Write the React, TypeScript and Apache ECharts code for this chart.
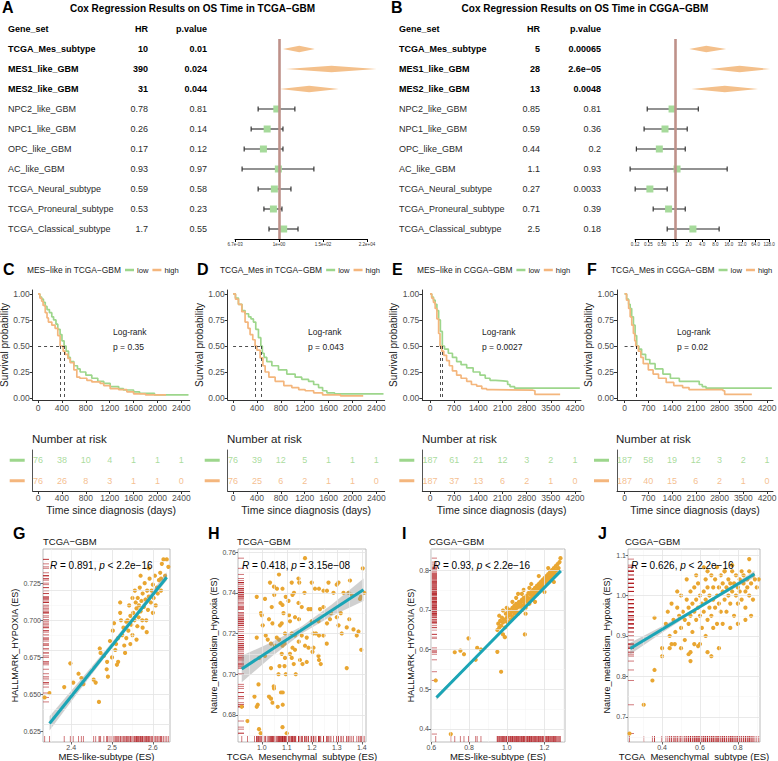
import React, { useEffect, useRef } from "react";
import * as echarts from "echarts";

const FONT = "'Liberation Sans', Arial, Helvetica, sans-serif";
const GREEN = "#9DD68C";
const ORANGE = "#F4B67D";
const DIAMOND = "#F4C08B";
const SQUARE = "#A6DA9B";
const REFLINE = "#BE918A";
const PT = "#E9A631";
const TEAL = "#1BA5B6";
const RUG = "rgba(178,30,36,0.75)";
const TICK = "#4D4D4D";

// ---------------- Forest plots ----------------
const geneSets = ["TCGA_Mes_subtype", "MES1_like_GBM", "MES2_like_GBM", "NPC2_like_GBM", "NPC1_like_GBM", "OPC_like_GBM", "AC_like_GBM", "TCGA_Neural_subtype", "TCGA_Proneural_subtype", "TCGA_Classical_subtype"];
const boldRows = [1, 1, 1, 0, 0, 0, 0, 0, 0, 0];

const hrTextA = ["10", "390", "31", "0.78", "0.26", "0.17", "0.93", "0.59", "0.53", "1.7"];
const pTextA = ["0.01", "0.024", "0.044", "0.81", "0.14", "0.12", "0.97", "0.58", "0.23", "0.55"];
const hrA = [10, 390, 31, 0.78, 0.26, 0.17, 0.93, 0.59, 0.53, 1.7];
const ciLoA = [1.58, 2.2, 1.1, 0.093, 0.042, 0.019, 0.015, 0.093, 0.18, 0.32];
const ciHiA = [59, 67000, 900, 6.1, 1.57, 1.57, 53, 3.9, 1.4, 8.7];
const forestTicksA = ["6.7e-03", "1e+00", "1.5e+02", "2.2e+04"];

const hrTextB = ["5", "28", "13", "0.85", "0.59", "0.44", "1.1", "0.27", "0.71", "2.5"];
const pTextB = ["0.00065", "2.6e\u221205", "0.0048", "0.81", "0.36", "0.2", "0.93", "0.0033", "0.39", "0.18"];
const hrB = [5, 28, 13, 0.85, 0.59, 0.44, 1.1, 0.27, 0.71, 2.5];
const ciLoB = [2.06, 6.1, 2.3, 0.235, 0.2, 0.134, 0.097, 0.126, 0.32, 0.66];
const ciHiB = [14, 136, 73, 3.3, 1.86, 1.68, 14.7, 0.66, 1.68, 9.7];
const forestTicksB = ["0.12", "0.25", "0.50", "1.0", "2.0", "4.0", "8.0", "16.0", "32.0", "64.0", "128.0"];

// ---------------- Kaplan-Meier ----------------
const kmC_low = [[0,1],[30,0.97],[60,0.95],[90,0.92],[120,0.88],[150,0.85],[190,0.82],[230,0.78],[260,0.75],[300,0.71],[330,0.66],[369,0.61],[400,0.55],[436,0.50],[470,0.45],[510,0.39],[540,0.35],[600,0.31],[660,0.28],[705,0.25],[800,0.22],[900,0.19],[1000,0.16],[1100,0.14],[1208,0.11],[1350,0.09],[1430,0.077],[1600,0.06],[1700,0.045],[1950,0.03],[2520,0.03]];
const kmC_high = [[0,1],[30,0.96],[60,0.93],[84,0.89],[120,0.82],[150,0.77],[173,0.73],[230,0.70],[285,0.67],[330,0.60],[369,0.50],[420,0.45],[453,0.42],[500,0.38],[537,0.34],[600,0.27],[649,0.20],[700,0.19],[817,0.17],[900,0.155],[1040,0.14],[1100,0.12],[1208,0.09],[1350,0.08],[1487,0.06],[1600,0.04],[1800,0.03],[2143,0.03]];
const kmD_low = [[0,1],[40,0.96],[90,0.9],[150,0.84],[201,0.81],[260,0.78],[300,0.76],[341,0.73],[380,0.66],[425,0.58],[465,0.50],[490,0.43],[520,0.39],[565,0.35],[650,0.31],[761,0.27],[900,0.23],[1040,0.20],[1150,0.18],[1264,0.16],[1350,0.13],[1432,0.10],[1500,0.07],[1572,0.05],[1700,0.04],[2520,0.04]];
const kmD_high = [[0,1],[40,0.95],[90,0.9],[146,0.83],[201,0.73],[250,0.67],[285,0.61],[330,0.56],[369,0.50],[400,0.46],[453,0.385],[500,0.31],[537,0.25],[600,0.20],[705,0.16],[850,0.12],[984,0.10],[1100,0.08],[1208,0.07],[1350,0.05],[1500,0.03],[1800,0.02],[2180,0.02]];
const kmE_low = [[0,1],[50,0.97],[100,0.94],[150,0.90],[200,0.84],[250,0.75],[300,0.64],[357,0.50],[420,0.47],[531,0.43],[650,0.39],[772,0.35],[900,0.32],[1063,0.29],[1250,0.25],[1448,0.22],[1600,0.19],[1738,0.17],[1900,0.165],[2115,0.16],[2250,0.13],[2317,0.11],[2450,0.095],[4340,0.095]];
const kmE_high = [[0,1],[50,0.96],[100,0.92],[150,0.86],[200,0.76],[250,0.62],[290,0.50],[340,0.45],[400,0.41],[480,0.36],[560,0.31],[650,0.26],[772,0.22],[900,0.19],[1063,0.16],[1200,0.13],[1352,0.115],[1500,0.09],[1642,0.08],[1800,0.075],[2980,0.07],[3040,0.035],[3770,0.035]];
const kmF_low = [[0,1],[60,0.95],[120,0.9],[165,0.86],[210,0.78],[261,0.70],[310,0.60],[357,0.50],[420,0.47],[502,0.42],[620,0.37],[744,0.33],[900,0.28],[1130,0.23],[1350,0.19],[1614,0.16],[2090,0.16],[2200,0.13],[2290,0.11],[2400,0.095],[4340,0.095]];
const kmF_high = [[0,1],[60,0.94],[120,0.86],[165,0.78],[212,0.70],[260,0.62],[300,0.55],[330,0.50],[406,0.45],[480,0.39],[551,0.33],[700,0.27],[841,0.23],[1000,0.19],[1227,0.15],[1450,0.12],[1711,0.10],[1900,0.08],[2900,0.07],[2950,0.035],[3750,0.035]];
const medC = [369, 436];
const medD = [369, 465];
const medE = [290, 357];
const medF = [330, 357];
const pvalC = "p = 0.35";
const pvalD = "p = 0.043";
const pvalE = "p = 0.0027";
const pvalF = "p = 0.02";

const timesTCGA = [0, 400, 800, 1200, 1600, 2000, 2400];
const timesCGGA = [0, 700, 1400, 2100, 2800, 3500, 4200];
const riskC_low = [76, 38, 10, 4, 1, 1, 1];
const riskC_high = [76, 26, 8, 3, 1, 1, 0];
const riskD_low = [76, 39, 12, 5, 1, 1, 1];
const riskD_high = [76, 25, 6, 2, 1, 1, 0];
const riskE_low = [187, 61, 21, 12, 3, 2, 1];
const riskE_high = [187, 37, 13, 6, 2, 1, 0];
const riskF_low = [187, 58, 19, 12, 3, 2, 1];
const riskF_high = [187, 40, 15, 6, 2, 1, 0];
const survTicks = [0, 0.25, 0.5, 0.75, 1];

// ---------------- Scatter plots ----------------
const gPts = [[2.335,0.648],[2.347,0.651],[2.383,0.655],[2.398,0.671],[2.405,0.658],[2.418,0.664],[2.425,0.661],[2.43,0.657],[2.455,0.66],[2.46,0.658],[2.468,0.645],[2.47,0.681],[2.472,0.678],[2.48,0.676],[2.487,0.667],[2.49,0.662],[2.488,0.672],[2.495,0.686],[2.5,0.675],[2.502,0.693],[2.505,0.698],[2.508,0.68],[2.51,0.684],[2.512,0.67],[2.515,0.672],[2.515,0.688],[2.52,0.705],[2.52,0.712],[2.522,0.7],[2.525,0.69],[2.528,0.695],[2.53,0.683],[2.532,0.678],[2.535,0.688],[2.535,0.699],[2.538,0.70],[2.54,0.693],[2.542,0.71],[2.545,0.703],[2.545,0.684],[2.547,0.697],[2.55,0.69],[2.55,0.715],[2.552,0.705],[2.555,0.70],[2.556,0.72],[2.558,0.712],[2.56,0.708],[2.56,0.687],[2.562,0.696],[2.563,0.715],[2.565,0.702],[2.566,0.71],[2.568,0.722],[2.57,0.706],[2.57,0.73],[2.572,0.713],[2.574,0.70],[2.575,0.718],[2.575,0.695],[2.578,0.709],[2.58,0.725],[2.582,0.714],[2.584,0.70],[2.585,0.692],[2.586,0.72],[2.588,0.707],[2.59,0.716],[2.59,0.735],[2.592,0.728],[2.595,0.712],[2.597,0.72],[2.6,0.724],[2.6,0.705],[2.602,0.715],[2.605,0.73],[2.607,0.71],[2.61,0.722],[2.612,0.718],[2.615,0.727],[2.618,0.732],[2.62,0.72],[2.62,0.728],[2.622,0.738],[2.626,0.741],[2.63,0.73],[2.634,0.741],[2.638,0.736]];
const hPts = [[1.173,0.757],[1.404,0.752],[1.069,0.749],[1.147,0.747],[1.15,0.745],[1.033,0.745],[1.2,0.745],[1.353,0.746],[1.267,0.745],[1.307,0.745],[1.3,0.744],[1.12,0.745],[1.049,0.743],[1.061,0.742],[1.083,0.742],[1.129,0.74],[1.123,0.739],[1.171,0.74],[1.213,0.742],[1.229,0.742],[1.247,0.741],[1.261,0.741],[1.287,0.74],[1.327,0.74],[1.347,0.74],[1.36,0.739],[1.397,0.738],[1.393,0.737],[0.98,0.738],[1.013,0.737],[1.096,0.738],[1.107,0.736],[1.075,0.735],[1.083,0.734],[1.04,0.733],[1.147,0.735],[1.16,0.733],[1.187,0.732],[1.197,0.732],[1.233,0.732],[1.247,0.733],[1.277,0.73],[1.316,0.73],[1.3,0.728],[1.35,0.727],[0.997,0.73],[1.087,0.73],[1.109,0.729],[1.133,0.728],[1.149,0.727],[1.029,0.727],[1.043,0.725],[1.08,0.725],[1.073,0.724],[1.113,0.726],[1.004,0.724],[1.2,0.726],[1.227,0.726],[1.261,0.725],[1.273,0.727],[1.307,0.724],[1.34,0.723],[1.367,0.722],[1.387,0.721],[1.32,0.72],[1.016,0.719],[1.024,0.717],[1.06,0.718],[1.069,0.717],[1.093,0.72],[1.12,0.72],[1.133,0.719],[1.16,0.719],[1.18,0.718],[1.207,0.72],[1.217,0.72],[1.229,0.719],[1.247,0.719],[1.26,0.715],[0.98,0.718],[1.037,0.715],[1.053,0.714],[1.083,0.714],[1.091,0.715],[1.123,0.713],[1.133,0.712],[1.148,0.716],[1.173,0.714],[1.187,0.713],[1.207,0.713],[1.203,0.711],[1.013,0.709],[1.08,0.71],[1.093,0.708],[1.113,0.71],[1.12,0.708],[1.153,0.707],[1.163,0.705],[1.18,0.706],[1.227,0.709],[1.229,0.707],[1.236,0.705],[1.34,0.703],[1.037,0.703],[1.071,0.704],[1.091,0.704],[1.128,0.705],[1.067,0.7],[1.096,0.7],[1.136,0.7],[0.987,0.695],[1.048,0.694],[1.049,0.693],[1.077,0.691],[1.084,0.691],[0.971,0.689],[1.029,0.689],[1.037,0.688],[0.984,0.685],[0.98,0.684],[1.043,0.686],[1.064,0.684],[1.084,0.685],[0.92,0.684],[0.943,0.677],[0.989,0.673],[0.996,0.671],[1.083,0.674],[1.1,0.671],[1.41,0.74],[1.398,0.712],[1.38,0.719],[1.05,0.739],[1.0,0.729],[0.99,0.708]];
const iPts = [[0.623,0.522],[0.703,0.387],[0.724,0.593],[0.754,0.597],[0.773,0.588],[0.797,0.628],[0.835,0.574],[0.843,0.604],[0.863,0.6],[0.95,0.594],[0.97,0.544],[0.95,0.649],[0.99,0.631],[0.98,0.638],[1.096,0.638],[0.955,0.665],[0.96,0.655],[0.965,0.672],[0.97,0.66],[0.975,0.68],[0.98,0.668],[0.985,0.675],[0.99,0.655],[0.995,0.69],[1.0,0.68],[1.0,0.67],[1.005,0.692],[1.01,0.685],[1.01,0.668],[1.015,0.70],[1.02,0.688],[1.02,0.675],[1.025,0.695],[1.03,0.705],[1.03,0.682],[1.035,0.698],[1.04,0.71],[1.04,0.69],[1.045,0.702],[1.05,0.695],[1.05,0.715],[1.055,0.705],[1.06,0.712],[1.06,0.69],[1.065,0.72],[1.07,0.708],[1.07,0.695],[1.075,0.718],[1.08,0.71],[1.08,0.725],[1.085,0.70],[1.09,0.72],[1.09,0.73],[1.095,0.712],[1.10,0.725],[1.10,0.705],[1.105,0.735],[1.11,0.72],[1.11,0.73],[1.115,0.742],[1.12,0.728],[1.12,0.715],[1.125,0.738],[1.13,0.745],[1.13,0.725],[1.135,0.735],[1.14,0.75],[1.14,0.73],[1.145,0.742],[1.15,0.755],[1.15,0.738],[1.155,0.748],[1.16,0.76],[1.16,0.74],[1.165,0.752],[1.17,0.765],[1.17,0.745],[1.175,0.758],[1.18,0.77],[1.18,0.75],[1.185,0.762],[1.19,0.775],[1.19,0.755],[1.195,0.768],[1.2,0.78],[1.2,0.76],[1.205,0.772],[1.21,0.785],[1.21,0.765],[1.215,0.778],[1.22,0.79],[1.22,0.77],[1.225,0.782],[1.23,0.795],[1.23,0.775],[1.235,0.788],[1.24,0.80],[1.24,0.78],[1.245,0.792],[1.25,0.805],[1.25,0.785],[1.255,0.798],[1.26,0.81],[1.26,0.79],[1.265,0.80],[1.27,0.815],[1.275,0.805],[1.28,0.82],[1.285,0.83],[1.12,0.755],[1.08,0.74],[1.05,0.73],[1.0,0.705],[0.98,0.698],[1.1,0.69],[1.15,0.72],[1.2,0.745],[1.25,0.77],[1.17,0.785],[1.22,0.805],[1.03,0.72],[1.06,0.74],[0.96,0.685],[1.13,0.765],[1.09,0.75]];
const jPts = [[0.228,0.659],[0.303,0.73],[0.349,0.79],[0.36,0.816],[0.4,0.85],[0.4,0.87],[0.44,0.87],[0.467,0.88],[0.54,0.855],[0.55,0.838],[0.66,0.85],[0.59,0.875],[0.36,0.945],[0.86,1.09],[0.77,1.075],[0.73,1.06],[0.69,1.07],[0.64,1.06],[0.42,0.93],[0.43,0.96],[0.44,0.90],[0.45,0.98],[0.46,0.94],[0.47,0.91],[0.48,0.97],[0.49,0.95],[0.50,0.92],[0.50,1.00],[0.51,0.96],[0.52,0.94],[0.52,0.89],[0.53,0.99],[0.54,0.97],[0.54,0.93],[0.55,1.01],[0.55,0.95],[0.56,0.98],[0.56,0.91],[0.57,0.96],[0.57,1.02],[0.58,0.94],[0.58,0.99],[0.59,0.97],[0.59,1.03],[0.60,0.95],[0.60,1.00],[0.61,0.92],[0.61,0.98],[0.62,1.01],[0.62,0.96],[0.63,1.04],[0.63,0.99],[0.64,0.94],[0.64,1.02],[0.65,0.97],[0.65,1.00],[0.66,1.05],[0.66,0.95],[0.67,0.99],[0.67,1.02],[0.68,0.97],[0.68,1.04],[0.69,1.00],[0.69,0.93],[0.70,1.02],[0.70,0.98],[0.71,1.05],[0.71,0.96],[0.72,1.01],[0.72,1.03],[0.73,0.99],[0.73,1.06],[0.74,1.02],[0.74,0.96],[0.75,1.00],[0.75,1.04],[0.76,0.98],[0.76,1.03],[0.77,1.06],[0.77,1.01],[0.78,0.95],[0.78,1.03],[0.79,1.00],[0.79,1.05],[0.80,1.02],[0.80,0.98],[0.81,1.04],[0.81,1.01],[0.82,1.06],[0.82,0.99],[0.83,1.03],[0.83,1.05],[0.84,1.01],[0.84,0.97],[0.85,1.04],[0.85,1.02],[0.86,1.06],[0.86,1.00],[0.87,1.03],[0.88,1.05],[0.88,0.99],[0.89,1.04],[0.90,1.02],[0.91,1.04],[0.48,1.01],[0.53,1.04],[0.58,1.05],[0.62,1.07],[0.45,0.88],[0.50,0.87],[0.57,0.88],[0.63,0.90],[0.67,0.92],[0.72,0.93],[0.76,0.92],[0.80,0.93],[0.84,0.94],[0.87,0.95],[0.64,0.86],[0.70,0.87],[0.55,0.86],[0.60,0.88]];

const lineG = [[2.347, 0.6305], [2.634, 0.729]];
const bandGx = [2.347, 2.42, 2.49, 2.56, 2.634];
const bandGlo = [0.6257, 0.6525, 0.6778, 0.7024, 0.7267];
const bandGhi = [0.6353, 0.6589, 0.6818, 0.7056, 0.7323];
const lineH = [[0.92, 0.7026], [1.407, 0.7415]];
const bandHx = [0.92, 1.04, 1.16, 1.28, 1.407];
const bandHlo = [0.6961, 0.7087, 0.72, 0.7286, 0.736];
const bandHhi = [0.7091, 0.7157, 0.7236, 0.7342, 0.747];
const lineI = [[0.627, 0.479], [1.287, 0.798]];
const bandIx = [0.627, 0.79, 0.95, 1.12, 1.287];
const bandIlo = [0.473, 0.5543, 0.6333, 0.7161, 0.7962];
const bandIhi = [0.485, 0.5613, 0.6369, 0.7185, 0.7998];
const lineJ = [[0.232, 0.869], [0.888, 1.053]];
const bandJx = [0.232, 0.4, 0.56, 0.72, 0.888];
const bandJlo = [0.855, 0.9081, 0.957, 1.0019, 1.045];
const bandJhi = [0.883, 0.9241, 0.965, 1.0099, 1.061];

const gTicksX = [2.4, 2.5, 2.6]; const gMinorX = [2.35, 2.45, 2.55];
const gTicksY = [0.625, 0.65, 0.675, 0.7, 0.725]; const gMinorY = [0.6375, 0.6625, 0.6875, 0.7125, 0.7375];
const hTicksX = [1.0, 1.1, 1.2, 1.3, 1.4]; const hMinorX = [0.95, 1.05, 1.15, 1.25, 1.35];
const hTicksY = [0.68, 0.7, 0.72, 0.74, 0.76]; const hMinorY = [0.67, 0.69, 0.71, 0.73, 0.75];
const iTicksX = [0.6, 0.8, 1.0, 1.2]; const iMinorX = [0.7, 0.9, 1.1, 1.3];
const iTicksY = [0.4, 0.5, 0.6, 0.7, 0.8]; const iMinorY = [0.45, 0.55, 0.65, 0.75];
const jTicksX = [0.4, 0.6, 0.8]; const jMinorX = [0.3, 0.5, 0.7, 0.9];
const jTicksY = [0.7, 0.8, 0.9, 1.0, 1.1]; const jMinorY = [0.65, 0.75, 0.85, 0.95, 1.05];

// ---------------- helpers ----------------
function txt(x: number, y: number, text: string, o: any = {}) {
  const align = o.align || "left";
  return {
    type: "text", x, y, silent: true, z: 100,
    style: {
      text, fill: o.fill || "#000", fontSize: o.size || 9, fontFamily: FONT,
      fontWeight: o.weight || "normal", fontStyle: o.style || "normal",
      textAlign: align, align, textVerticalAlign: "middle", verticalAlign: "middle",
      rich: o.rich,
    },
  };
}

function forestSeries(gi: number, hr: number[], lo: number[], hi: number[], tf: (v: number) => number) {
  const data = hr.map((h, i) => [i, tf(lo[i]), tf(h), tf(hi[i]), boldRows[i]]);
  return [
    {
      type: "line", xAxisIndex: gi, yAxisIndex: gi, data: [[0, -0.5]], symbol: "none", z: 1,
      lineStyle: { opacity: 0 }, silent: true,
      markLine: { silent: true, symbol: ["none", "none"], label: { show: false },
        lineStyle: { color: REFLINE, width: 2.6, type: "solid" }, data: [{ xAxis: 0 }] },
    },
    {
      type: "custom", xAxisIndex: gi, yAxisIndex: gi, clip: false, z: 3, silent: true,
      encode: { x: 2, y: 0 }, data,
      renderItem: (p: any, api: any) => {
        const r = api.value(0);
        const pl = api.coord([api.value(1), r]);
        const pc = api.coord([api.value(2), r]);
        const ph = api.coord([api.value(3), r]);
        const y = pc[1];
        if (api.value(4)) {
          return { type: "polygon", shape: { points: [[pl[0], y], [pc[0], y - 3.2], [ph[0], y], [pc[0], y + 3.2]] }, style: { fill: DIAMOND } };
        }
        const st = { stroke: "#262626", lineWidth: 1.1 };
        return {
          type: "group", children: [
            { type: "line", shape: { x1: pl[0], y1: y, x2: ph[0], y2: y }, style: st },
            { type: "line", shape: { x1: pl[0], y1: y - 2.5, x2: pl[0], y2: y + 2.5 }, style: st },
            { type: "line", shape: { x1: ph[0], y1: y - 2.5, x2: ph[0], y2: y + 2.5 }, style: st },
            { type: "rect", shape: { x: pc[0] - 3.5, y: y - 3.5, width: 7, height: 7 }, style: { fill: SQUARE } },
          ],
        };
      },
    },
  ];
}

function tableSeries(gi: number, cols: number[], hrText: string[], pText: string[]) {
  const rows = [-1, 0, 1, 2, 3, 4, 5, 6, 7, 8, 9].map((r) => [0, r]);
  return {
    type: "custom", xAxisIndex: gi, yAxisIndex: gi, clip: false, z: 5, silent: true,
    encode: { x: 0, y: 1 }, data: rows,
    renderItem: (p: any, api: any) => {
      const r = api.value(1);
      const y = api.coord([0, r])[1];
      const head = r < 0;
      const bold = head || boldRows[r] === 1;
      const fw = bold ? "bold" : "normal";
      const mk = (x: number, t: string, align: string) => ({
        type: "text", x, y,
        style: { text: t, fill: bold ? "#000" : "#2a2a2a", fontSize: 9, fontWeight: fw, fontFamily: FONT, textAlign: align, align, textVerticalAlign: "middle", verticalAlign: "middle" },
      });
      return {
        type: "group", children: [
          mk(cols[0], head ? "Gene_set" : geneSets[r], "left"),
          mk(cols[1], head ? "HR" : hrText[r], "right"),
          mk(cols[2], head ? "p.value" : pText[r], "right"),
        ],
      };
    },
  };
}

function kmSeries(gi: number, low: number[][], high: number[][], med: number[]) {
  const mmax = Math.max(...med);
  const ml: any[] = [[{ coord: [0, 0.5] }, { coord: [mmax, 0.5] }]];
  med.forEach((m) => ml.push([{ coord: [m, 0.5] }, { coord: [m, 0] }]));
  return [
    { type: "line", xAxisIndex: gi, yAxisIndex: gi, data: low, step: "end", symbol: "none", z: 3, silent: true,
      lineStyle: { color: GREEN, width: 1.7 } },
    { type: "line", xAxisIndex: gi, yAxisIndex: gi, data: high, step: "end", symbol: "none", z: 4, silent: true,
      lineStyle: { color: ORANGE, width: 1.7 },
      markLine: { silent: true, symbol: ["none", "none"], label: { show: false }, animation: false,
        lineStyle: { color: "#222", width: 0.8, type: [3, 3] }, data: ml } },
  ];
}

function riskSeries(gi: number, times: number[], low: number[], high: number[]) {
  const mk = (cat: string, vals: number[], color: string) => ({
    type: "scatter", xAxisIndex: gi, yAxisIndex: gi, symbolSize: 0, silent: true,
    data: times.map((t, i) => [t, cat, vals[i]]),
    label: { show: true, position: "inside", formatter: (p: any) => String(p.value[2]), color, fontSize: 9, fontFamily: FONT },
  });
  return [mk("low", low, "#93D283"), mk("high", high, "#F2AE72")];
}

function kmAxes(gi: number, min: number, max: number, ticks: number[]) {
  const x = {
    gridIndex: gi, type: "value", min, max,
    axisLine: { show: true, onZero: false, lineStyle: { color: "#333", width: 1 } },
    axisTick: { show: true, length: 3, customValues: ticks, lineStyle: { color: "#333" } },
    axisLabel: { customValues: ticks, fontSize: 8.5, color: TICK, margin: 3, fontFamily: FONT, formatter: (v: number) => String(v) },
    splitLine: { show: false },
  };
  const y = {
    gridIndex: gi, type: "value", min: -0.019, max: 1.038,
    axisLine: { show: true, onZero: false, lineStyle: { color: "#333", width: 1 } },
    axisTick: { show: true, length: 3, customValues: survTicks, lineStyle: { color: "#333" } },
    axisLabel: { customValues: survTicks, fontSize: 8.5, color: TICK, margin: 3, fontFamily: FONT, formatter: (v: number) => v.toFixed(2) },
    splitLine: { show: false },
    name: "Survival probability", nameLocation: "middle", nameGap: 18,
    nameTextStyle: { fontSize: 10, color: "#222", fontFamily: FONT },
  };
  return { x, y };
}

function riskAxes(gi: number, min: number, max: number, ticks: number[]) {
  const x = {
    gridIndex: gi, type: "value", min, max,
    axisLine: { show: true, onZero: false, lineStyle: { color: "#333", width: 1 } },
    axisTick: { show: true, length: 3, customValues: ticks, lineStyle: { color: "#333" } },
    axisLabel: { customValues: ticks, fontSize: 8.5, color: TICK, margin: 2, fontFamily: FONT, formatter: (v: number) => String(v) },
    splitLine: { show: false },
    name: "Time since diagnosis (days)", nameLocation: "middle", nameGap: 13,
    nameTextStyle: { fontSize: 10.5, color: "#222", fontFamily: FONT },
  };
  const y = {
    gridIndex: gi, type: "category", data: ["high", "low"],
    axisLine: { show: true, onZero: false, lineStyle: { color: "#555", width: 1 } },
    axisTick: { show: false },
    axisLabel: {
      margin: 8, formatter: (v: string) => (v === "low" ? "{g|}" : "{o|}"),
      rich: { g: { width: 15, height: 3, backgroundColor: GREEN }, o: { width: 15, height: 3, backgroundColor: ORANGE } },
    },
    splitLine: { show: false },
  };
  return { x, y };
}

function scatterAxes(gi: number, xr: number[], yr: number[], tx: number[], ty: number[], dx: number, dy: number, xName: string, yName: string, yGap: number) {
  const x = {
    gridIndex: gi, type: "value", min: xr[0], max: xr[1],
    axisLine: { show: false, onZero: false }, splitLine: { show: false },
    axisTick: { show: true, length: 2.5, customValues: tx, lineStyle: { color: "#444", width: 0.8 } },
    axisLabel: { customValues: tx, fontSize: 7, color: TICK, margin: 1.5, fontFamily: FONT, formatter: (v: number) => v.toFixed(dx) },
    name: xName, nameLocation: "middle", nameGap: 4.5,
    nameTextStyle: { fontSize: 9.5, color: "#111", fontFamily: FONT },
  };
  const y = {
    gridIndex: gi, type: "value", min: yr[0], max: yr[1],
    axisLine: { show: false, onZero: false }, splitLine: { show: false },
    axisTick: { show: true, length: 2.5, customValues: ty, lineStyle: { color: "#444", width: 0.8 } },
    axisLabel: { customValues: ty, fontSize: 7, color: TICK, margin: 2, fontFamily: FONT, formatter: (v: number) => v.toFixed(dy) },
    name: yName, nameLocation: "middle", nameGap: yGap,
    nameTextStyle: { fontSize: 9, color: "#111", fontFamily: FONT },
  };
  return { x, y };
}

function scatterSeries(gi: number, pts: number[][], line: number[][], bx: number[], blo: number[], bhi: number[],
  xr: number[], yr: number[], tx: number[], mx: number[], ty: number[], my: number[]) {
  const gl: any[] = [];
  const minor = { color: "#F2F2F2", width: 0.5, type: "solid" };
  const major = { color: "#E3E3E3", width: 0.8, type: "solid" };
  mx.forEach((v) => gl.push({ xAxis: v, lineStyle: minor }));
  my.forEach((v) => gl.push({ yAxis: v, lineStyle: minor }));
  tx.forEach((v) => gl.push({ xAxis: v, lineStyle: major }));
  ty.forEach((v) => gl.push({ yAxis: v, lineStyle: major }));
  return [
    {
      type: "line", xAxisIndex: gi, yAxisIndex: gi, data: [[xr[0], yr[0]]], symbol: "none", z: 1, silent: true,
      lineStyle: { opacity: 0 },
      markLine: { silent: true, symbol: ["none", "none"], label: { show: false }, lineStyle: { type: "solid" }, data: gl },
    },
    {
      type: "custom", xAxisIndex: gi, yAxisIndex: gi, z: 2, silent: true, clip: false,
      data: pts,
      renderItem: (p: any, api: any) => {
        const a = api.coord([xr[0], api.value(1)]);
        const b = api.coord([api.value(0), yr[0]]);
        return {
          type: "group", children: [
            { type: "line", shape: { x1: a[0], y1: a[1], x2: a[0] + 6, y2: a[1] }, style: { stroke: RUG, lineWidth: 0.8 } },
            { type: "line", shape: { x1: b[0], y1: b[1], x2: b[0], y2: b[1] - 6 }, style: { stroke: RUG, lineWidth: 0.8 } },
          ],
        };
      },
    },
    {
      type: "custom", xAxisIndex: gi, yAxisIndex: gi, z: 3, silent: true,
      data: pts,
      renderItem: (p: any, api: any) => {
        const c = api.coord([api.value(0), api.value(1)]);
        return { type: "circle", shape: { cx: c[0], cy: c[1], r: 2.1 }, style: { fill: PT, stroke: "none" } };
      },
    },
    {
      type: "custom", xAxisIndex: gi, yAxisIndex: gi, z: 4, silent: true,
      data: [[bx[0], blo[0]]],
      renderItem: (p: any, api: any) => {
        const up = bx.map((x, k) => api.coord([x, bhi[k]]));
        const dn = bx.map((x, k) => api.coord([x, blo[k]])).reverse();
        return { type: "polygon", shape: { points: up.concat(dn) }, style: { fill: "rgba(150,150,150,0.45)" } };
      },
    },
    {
      type: "line", xAxisIndex: gi, yAxisIndex: gi, data: line, symbol: "none", z: 5, silent: true,
      lineStyle: { color: TEAL, width: 3 },
    },
  ];
}

function buildOption() {
  const LA = -Math.log10(0.0067);
  const log10 = (v: number) => Math.log10(v);
  const log2 = (v: number) => Math.log2(v);
  const ob = { outerBoundsMode: "none" };
  const sg = { show: true, borderColor: "#ABABAB", borderWidth: 0.8 };
  const grid = [
    { left: 235, top: 39, width: 132, height: 200, ...ob },
    { left: 635, top: 39, width: 134, height: 200, ...ob },
    { left: 32.7, top: 290, width: 157, height: 110, ...ob },
    { left: 227.7, top: 290, width: 157, height: 110, ...ob },
    { left: 422.3, top: 290, width: 158.7, height: 110, ...ob },
    { left: 617, top: 290, width: 156, height: 110, ...ob },
    { left: 32.7, top: 450, width: 157, height: 41, ...ob },
    { left: 227.7, top: 450, width: 157, height: 41, ...ob },
    { left: 422.3, top: 450, width: 158.7, height: 41, ...ob },
    { left: 617, top: 450, width: 156, height: 41, ...ob },
    { left: 43, top: 549, width: 127, height: 193, ...sg, ...ob },
    { left: 238, top: 549, width: 128, height: 193, ...sg, ...ob },
    { left: 431, top: 549, width: 134, height: 193, ...sg, ...ob },
    { left: 628, top: 549, width: 132, height: 193, ...sg, ...ob },
  ];

  const forestX = (gi: number, min: number, max: number, interval: number, labels: string[]) => ({
    gridIndex: gi, type: "value", min, max, interval,
    axisLine: { show: true, onZero: false, lineStyle: { color: "#000", width: 1 } },
    axisTick: { show: true, length: 3, lineStyle: { color: "#000" } },
    axisLabel: { fontSize: 4.5, color: "#333", margin: 3, fontFamily: FONT, formatter: (v: number, i: number) => labels[i] ?? "" },
    splitLine: { show: false },
  });
  const forestY = (gi: number) => ({ gridIndex: gi, type: "value", min: -0.5, max: 9.5, inverse: true, show: false, axisLine: { onZero: false } });

  const kC = kmAxes(2, -90, 2540, timesTCGA);
  const kD = kmAxes(3, -90, 2540, timesTCGA);
  const kE = kmAxes(4, -223, 4374, timesCGGA);
  const kF = kmAxes(5, -223, 4374, timesCGGA);
  const rC = riskAxes(6, -90, 2540, timesTCGA);
  const rD = riskAxes(7, -90, 2540, timesTCGA);
  const rE = riskAxes(8, -223, 4374, timesCGGA);
  const rF = riskAxes(9, -223, 4374, timesCGGA);

  const gR = { x: [2.331, 2.642], y: [0.618, 0.748] };
  const hR = { x: [0.905, 1.417], y: [0.6667, 0.7615] };
  const iR = { x: [0.598, 1.309], y: [0.367, 0.853] };
  const jR = { x: [0.22, 0.917], y: [0.638, 1.115] };
  const sG = scatterAxes(10, gR.x, gR.y, gTicksX, gTicksY, 1, 3, "MES-like-subtype (ES)", "HALLMARK_HYPOXIA (ES)", 18);
  const sH = scatterAxes(11, hR.x, hR.y, hTicksX, hTicksY, 1, 2, "TCGA_Mesenchymal_subtype (ES)", "Nature_metabolism_Hypoxia (ES)", 18);
  const sI = scatterAxes(12, iR.x, iR.y, iTicksX, iTicksY, 1, 1, "MES-like-subtype (ES)", "HALLMARK_HYPOXIA (ES)", 15);
  const sJ = scatterAxes(13, jR.x, jR.y, jTicksX, jTicksY, 1, 1, "TCGA_Mesenchymal_subtype (ES)", "Nature_metabolism_Hypoxia (ES)", 17);

  const xAxis = [
    forestX(0, -LA, 2 * LA + 1e-9, LA, forestTicksA),
    forestX(1, -3, 7, 1, forestTicksB),
    kC.x, kD.x, kE.x, kF.x, rC.x, rD.x, rE.x, rF.x, sG.x, sH.x, sI.x, sJ.x,
  ];
  const yAxis = [forestY(0), forestY(1), kC.y, kD.y, kE.y, kF.y, rC.y, rD.y, rE.y, rF.y, sG.y, sH.y, sI.y, sJ.y];

  const series: any[] = [
    ...forestSeries(0, hrA, ciLoA, ciHiA, log10),
    tableSeries(0, [8, 148, 207], hrTextA, pTextA),
    ...forestSeries(1, hrB, ciLoB, ciHiB, log2),
    tableSeries(1, [399, 540, 601], hrTextB, pTextB),
    ...kmSeries(2, kmC_low, kmC_high, medC),
    ...kmSeries(3, kmD_low, kmD_high, medD),
    ...kmSeries(4, kmE_low, kmE_high, medE),
    ...kmSeries(5, kmF_low, kmF_high, medF),
    ...riskSeries(6, timesTCGA, riskC_low, riskC_high),
    ...riskSeries(7, timesTCGA, riskD_low, riskD_high),
    ...riskSeries(8, timesCGGA, riskE_low, riskE_high),
    ...riskSeries(9, timesCGGA, riskF_low, riskF_high),
    ...scatterSeries(10, gPts, lineG, bandGx, bandGlo, bandGhi, gR.x, gR.y, gTicksX, gMinorX, gTicksY, gMinorY),
    ...scatterSeries(11, hPts, lineH, bandHx, bandHlo, bandHhi, hR.x, hR.y, hTicksX, hMinorX, hTicksY, hMinorY),
    ...scatterSeries(12, iPts, lineI, bandIx, bandIlo, bandIhi, iR.x, iR.y, iTicksX, iMinorX, iTicksY, iMinorY),
    ...scatterSeries(13, jPts, lineJ, bandJx, bandJlo, bandJhi, jR.x, jR.y, jTicksX, jMinorX, jTicksY, jMinorY),
  ];

  const legendRich = {
    t: { fontSize: 8.4, color: "#222", fontFamily: FONT, padding: [0, 4, 0, 0] },
    l: { fontSize: 7.6, color: "#222", fontFamily: FONT, padding: [0, 4, 0, 3] },
    g: { width: 9, height: 2.5, backgroundColor: GREEN, verticalAlign: "middle" },
    o: { width: 9, height: 2.5, backgroundColor: ORANGE, verticalAlign: "middle" },
  };
  const kmTitle = (x: number, t: string) => txt(x, 270, `{t|${t}}{g|}{l|low}{o|}{l|high}`, { size: 8.4, fill: "#222", rich: legendRich });
  const letter = (x: number, y: number, t: string) => txt(x, y, t, { size: 16, weight: "bold" });
  const corRich = { i: { fontStyle: "italic", fontSize: 10, fontFamily: FONT } };
  const cor = (x: number, r: string, p: string) => txt(x, 565, `{i|R} = ${r}, {i|p} ${p}`, { size: 10, rich: corRich });
  const lr = { size: 8.5, fill: "#222" };

  const graphic: any[] = [
    letter(2, 7, "A"), letter(391, 7, "B"),
    letter(3, 269, "C"), letter(197, 269, "D"), letter(392, 269, "E"), letter(587, 269, "F"),
    letter(13, 533, "G"), letter(208, 533, "H"), letter(402, 533, "I"), letter(598, 533, "J"),
    txt(192.5, 8, "Cox Regression Results on OS Time in TCGA\u2212GBM", { size: 10, weight: "bold", align: "center" }),
    txt(585, 8, "Cox Regression Results on OS Time in CGGA\u2212GBM", { size: 10, weight: "bold", align: "center" }),
    kmTitle(27, "MES\u2212like in TCGA\u2212GBM"),
    kmTitle(220, "TCGA_Mes in TCGA\u2212GBM"),
    kmTitle(417, "MES\u2212like in CGGA\u2212GBM"),
    kmTitle(611, "TCGA_Mes in CGGA\u2212GBM"),
    txt(113, 332, "Log-rank", lr), txt(113, 347, pvalC, lr),
    txt(308, 332, "Log-rank", lr), txt(308, 347, pvalD, lr),
    txt(482, 332, "Log-rank", lr), txt(482, 347, pvalE, lr),
    txt(677, 332, "Log-rank", lr), txt(677, 347, pvalF, lr),
    txt(32, 439, "Number at risk", { size: 11.5, fill: "#222" }),
    txt(227, 439, "Number at risk", { size: 11.5, fill: "#222" }),
    txt(422, 439, "Number at risk", { size: 11.5, fill: "#222" }),
    txt(616, 439, "Number at risk", { size: 11.5, fill: "#222" }),
    txt(43, 541, "TCGA\u2212GBM", { size: 9.5, fill: "#111" }),
    txt(237, 541, "TCGA\u2212GBM", { size: 9.5, fill: "#111" }),
    txt(429, 541, "CGGA\u2212GBM", { size: 9.5, fill: "#111" }),
    txt(625, 541, "CGGA\u2212GBM", { size: 9.5, fill: "#111" }),
    cor(50, "0.891", "< 2.2e\u221216"),
    cor(242, "0.418", "= 3.15e\u221208"),
    cor(433, "0.93", "< 2.2e\u221216"),
    cor(631, "0.626", "< 2.2e\u221216"),
  ];

  return {
    animation: false,
    backgroundColor: "#fff",
    textStyle: { fontFamily: FONT },
    grid, xAxis, yAxis, series, graphic,
  };
}

export default function App() {
  const ref = useRef<HTMLDivElement>(null);
  useEffect(() => {
    const chart = echarts.init(ref.current as HTMLDivElement, null, { renderer: "svg" });
    chart.setOption(buildOption() as any);
    return () => chart.dispose();
  }, []);
  return <div ref={ref} style={{ position: "absolute", left: 0, top: 0, width: 778, height: 761, background: "#fff" }} />;
}
